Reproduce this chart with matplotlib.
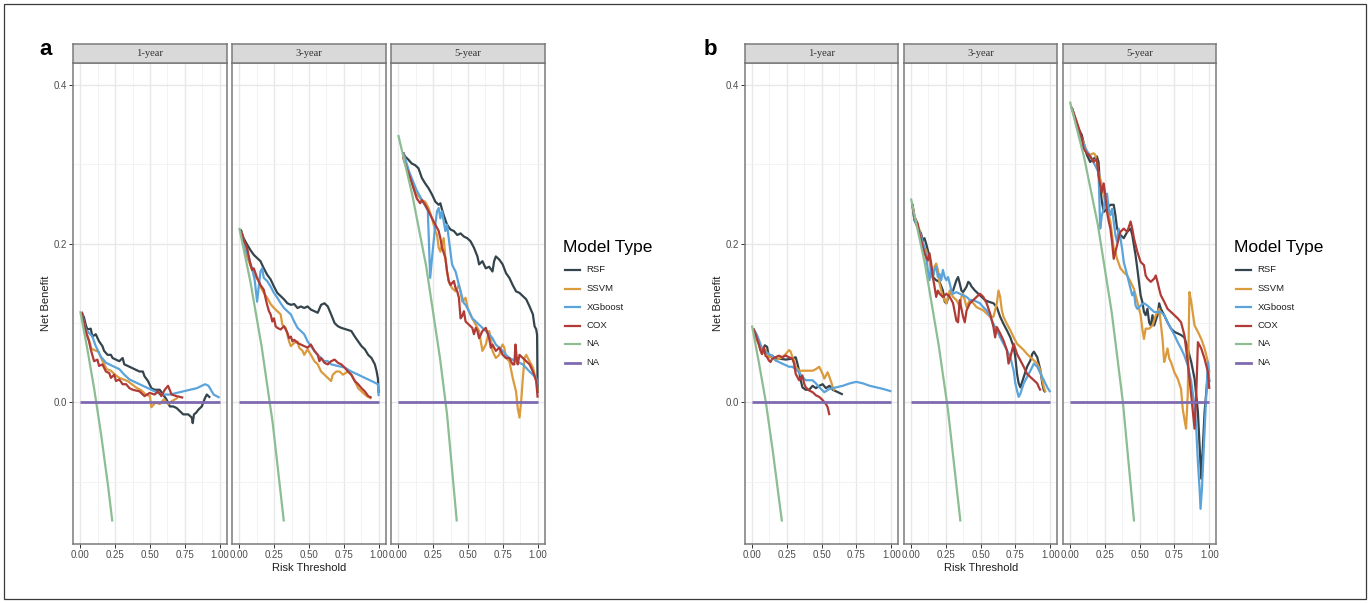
import matplotlib
matplotlib.use("Agg")
import matplotlib.pyplot as plt
from matplotlib.lines import Line2D
from matplotlib.patches import Rectangle

plt.rcParams["font.family"] = ["Liberation Sans", "DejaVu Sans"]

# ---------------------------------------------------------------- labels
HORIZONS = ["1-year", "3-year", "5-year"]
MODELS = ["RSF", "SSVM", "XGboost", "COX", "NA", "NA"]
COLORS = ["#34444C", "#DB9A3C", "#5BA4DB", "#B03A35", "#8CBD93", "#7E6BAF"]
WIDTHS = [1.6, 1.6, 1.6, 1.6, 1.6, 2.0]
X_TICKS = [0.0, 0.25, 0.5, 0.75, 1.0]
X_TICK_LABELS = ["0.00", "0.25", "0.50", "0.75", "1.00"]
Y_TICKS = [0.0, 0.2, 0.4]
Y_TICK_LABELS = ["0.0", "0.2", "0.4"]

# ------------------------------------------- decision curves (threshold, net benefit)
# panel a, 1-year
a1_rsf = [(0.01, 0.114), (0.027, 0.107), (0.039, 0.098), (0.051, 0.092), (0.075, 0.093), (0.087, 0.083),
          (0.111, 0.086), (0.135, 0.077), (0.159, 0.071), (0.171, 0.065), (0.196, 0.060), (0.220, 0.060),
          (0.232, 0.056), (0.256, 0.054), (0.280, 0.052), (0.304, 0.056), (0.316, 0.048), (0.341, 0.046),
          (0.365, 0.044), (0.389, 0.042), (0.425, 0.039), (0.449, 0.039), (0.461, 0.033), (0.486, 0.027),
          (0.510, 0.018), (0.534, 0.016), (0.570, 0.016), (0.594, 0.010), (0.618, 0.004), (0.643, -0.005),
          (0.667, -0.005), (0.691, -0.007), (0.715, -0.011), (0.739, -0.015), (0.775, -0.015), (0.800, -0.019),
          (0.807, -0.026), (0.816, -0.015), (0.831, -0.013), (0.848, -0.009), (0.872, -0.005), (0.896, 0.006),
          (0.908, 0.010), (0.932, 0.006)]
a1_ssvm = [(0.01, 0.114), (0.02, 0.100), (0.04, 0.088), (0.06, 0.080), (0.08, 0.068), (0.10, 0.066),
           (0.13, 0.064), (0.16, 0.052), (0.19, 0.042), (0.22, 0.040), (0.25, 0.035), (0.28, 0.031),
           (0.31, 0.029), (0.34, 0.027), (0.37, 0.023), (0.40, 0.019), (0.44, 0.015), (0.47, 0.010),
           (0.50, 0.008), (0.51, -0.006), (0.54, 0.000), (0.57, -0.002), (0.60, 0.004), (0.63, -0.002),
           (0.66, 0.002), (0.70, 0.006)]
a1_xgb = [(0.01, 0.114), (0.039, 0.092), (0.087, 0.083), (0.111, 0.071), (0.147, 0.058), (0.184, 0.050),
          (0.232, 0.046), (0.280, 0.042), (0.316, 0.035), (0.353, 0.029), (0.425, 0.023), (0.486, 0.018),
          (0.534, 0.014), (0.582, 0.010), (0.643, 0.010), (0.691, 0.012), (0.739, 0.014), (0.787, 0.016),
          (0.836, 0.018), (0.896, 0.023), (0.920, 0.021), (0.957, 0.010), (1.0, 0.006)]
a1_cox = [(0.01, 0.114), (0.039, 0.090), (0.063, 0.077), (0.075, 0.067), (0.099, 0.052), (0.123, 0.054),
          (0.135, 0.046), (0.159, 0.048), (0.184, 0.039), (0.208, 0.037), (0.220, 0.031), (0.244, 0.035),
          (0.256, 0.027), (0.280, 0.029), (0.304, 0.023), (0.329, 0.023), (0.353, 0.018), (0.377, 0.016),
          (0.425, 0.014), (0.461, 0.008), (0.498, 0.012), (0.534, 0.010), (0.558, 0.014), (0.582, 0.008),
          (0.606, 0.016), (0.630, 0.021), (0.655, 0.010), (0.691, 0.008), (0.739, 0.006)]
a1_all = [(0.0, 0.115), (0.05, 0.068), (0.10, 0.017), (0.15, -0.041), (0.20, -0.106), (0.23, -0.150)]

# panel a, 3-year
a2_rsf = [(0.01, 0.218), (0.031, 0.207), (0.056, 0.199), (0.080, 0.192), (0.104, 0.186), (0.128, 0.182),
          (0.152, 0.178), (0.176, 0.169), (0.200, 0.161), (0.225, 0.155), (0.249, 0.146), (0.273, 0.138),
          (0.297, 0.134), (0.321, 0.130), (0.345, 0.125), (0.370, 0.123), (0.394, 0.124), (0.418, 0.119),
          (0.442, 0.121), (0.466, 0.119), (0.490, 0.121), (0.514, 0.117), (0.539, 0.115), (0.563, 0.113),
          (0.587, 0.123), (0.611, 0.125), (0.635, 0.121), (0.659, 0.111), (0.684, 0.100), (0.708, 0.096),
          (0.732, 0.094), (0.768, 0.092), (0.804, 0.090), (0.829, 0.083), (0.853, 0.077), (0.877, 0.071),
          (0.901, 0.067), (0.925, 0.060), (0.949, 0.056), (0.973, 0.048), (0.986, 0.039), (0.995, 0.030),
          (1.0, 0.012)]
a2_ssvm = [(0.01, 0.218), (0.043, 0.190), (0.068, 0.178), (0.092, 0.167), (0.116, 0.159), (0.140, 0.153),
           (0.152, 0.146), (0.176, 0.138), (0.200, 0.132), (0.225, 0.124), (0.249, 0.119), (0.273, 0.115),
           (0.297, 0.111), (0.309, 0.098), (0.333, 0.094), (0.345, 0.086), (0.357, 0.077), (0.370, 0.071),
           (0.394, 0.075), (0.418, 0.077), (0.430, 0.069), (0.454, 0.065), (0.466, 0.060), (0.490, 0.067),
           (0.514, 0.060), (0.539, 0.052), (0.563, 0.048), (0.587, 0.039), (0.611, 0.035), (0.635, 0.031),
           (0.659, 0.027), (0.671, 0.035), (0.696, 0.039), (0.720, 0.039), (0.744, 0.035), (0.780, 0.039),
           (0.804, 0.035), (0.829, 0.027), (0.853, 0.018), (0.877, 0.014), (0.901, 0.010), (0.925, 0.007),
           (0.949, 0.005)]
a2_xgb = [(0.01, 0.218), (0.05, 0.192), (0.09, 0.170), (0.11, 0.155), (0.128, 0.127), (0.152, 0.165),
          (0.164, 0.169), (0.176, 0.157), (0.200, 0.153), (0.225, 0.146), (0.249, 0.138), (0.273, 0.132),
          (0.297, 0.125), (0.321, 0.119), (0.345, 0.115), (0.370, 0.111), (0.394, 0.102), (0.418, 0.094),
          (0.442, 0.090), (0.466, 0.086), (0.490, 0.077), (0.514, 0.071), (0.539, 0.065), (0.563, 0.060),
          (0.587, 0.056), (0.611, 0.052), (0.635, 0.052), (0.659, 0.048), (0.708, 0.046), (0.756, 0.044),
          (0.804, 0.039), (0.853, 0.035), (0.901, 0.031), (0.949, 0.027), (0.995, 0.023), (1.0, 0.008)]
a2_cox = [(0.01, 0.218), (0.031, 0.205), (0.056, 0.195), (0.080, 0.174), (0.092, 0.167), (0.104, 0.169),
          (0.128, 0.157), (0.152, 0.148), (0.176, 0.142), (0.188, 0.132), (0.200, 0.123), (0.213, 0.115),
          (0.225, 0.111), (0.237, 0.102), (0.249, 0.106), (0.261, 0.096), (0.273, 0.094), (0.297, 0.092),
          (0.321, 0.096), (0.345, 0.088), (0.357, 0.081), (0.370, 0.083), (0.382, 0.077), (0.394, 0.079),
          (0.418, 0.075), (0.442, 0.073), (0.466, 0.071), (0.490, 0.069), (0.514, 0.073), (0.539, 0.065),
          (0.563, 0.060), (0.575, 0.052), (0.587, 0.056), (0.611, 0.050), (0.635, 0.048), (0.659, 0.052),
          (0.684, 0.054), (0.708, 0.050), (0.732, 0.048), (0.756, 0.044), (0.780, 0.039), (0.804, 0.035),
          (0.829, 0.027), (0.853, 0.023), (0.877, 0.018), (0.901, 0.014), (0.925, 0.008), (0.949, 0.006)]
a2_all = [(0.0, 0.220), (0.08, 0.152), (0.16, 0.071), (0.24, -0.026), (0.32, -0.150)]

# panel a, 5-year
a3_rsf = [(0.035, 0.315), (0.048, 0.310), (0.072, 0.306), (0.097, 0.301), (0.121, 0.299), (0.145, 0.295),
          (0.169, 0.283), (0.193, 0.276), (0.217, 0.270), (0.242, 0.262), (0.266, 0.253), (0.290, 0.249),
          (0.302, 0.251), (0.314, 0.243), (0.326, 0.236), (0.350, 0.224), (0.374, 0.218), (0.399, 0.216),
          (0.423, 0.211), (0.447, 0.213), (0.471, 0.209), (0.495, 0.207), (0.519, 0.203), (0.543, 0.195),
          (0.568, 0.184), (0.580, 0.174), (0.604, 0.178), (0.628, 0.169), (0.652, 0.171), (0.676, 0.165),
          (0.688, 0.178), (0.700, 0.184), (0.725, 0.180), (0.749, 0.174), (0.773, 0.163), (0.797, 0.157),
          (0.821, 0.148), (0.845, 0.140), (0.870, 0.138), (0.894, 0.134), (0.918, 0.130), (0.942, 0.121),
          (0.966, 0.111), (0.978, 0.096), (0.990, 0.092), (0.996, 0.085), (1.0, 0.012)]
a3_ssvm = [(0.035, 0.315), (0.048, 0.304), (0.072, 0.291), (0.097, 0.278), (0.121, 0.266), (0.145, 0.260),
           (0.169, 0.255), (0.193, 0.253), (0.217, 0.245), (0.242, 0.232), (0.266, 0.216), (0.278, 0.211),
           (0.290, 0.195), (0.302, 0.190), (0.314, 0.199), (0.326, 0.207), (0.338, 0.182), (0.350, 0.165),
           (0.362, 0.153), (0.386, 0.144), (0.411, 0.140), (0.435, 0.148), (0.447, 0.140), (0.459, 0.127),
           (0.483, 0.132), (0.495, 0.121), (0.507, 0.115), (0.531, 0.106), (0.556, 0.098), (0.580, 0.090),
           (0.592, 0.077), (0.604, 0.065), (0.628, 0.073), (0.652, 0.090), (0.664, 0.081), (0.676, 0.065),
           (0.700, 0.056), (0.725, 0.060), (0.737, 0.069), (0.749, 0.073), (0.761, 0.069), (0.773, 0.056),
           (0.797, 0.052), (0.821, 0.031), (0.845, 0.014), (0.857, -0.007), (0.870, -0.019), (0.882, 0.002),
           (0.894, 0.031), (0.906, 0.056), (0.918, 0.060), (0.942, 0.052), (0.966, 0.044), (0.990, 0.027),
           (1.0, 0.014)]
a3_xgb = [(0.035, 0.315), (0.08, 0.290), (0.13, 0.268), (0.18, 0.252), (0.212, 0.242), (0.229, 0.157),
          (0.242, 0.182), (0.254, 0.203), (0.266, 0.224), (0.278, 0.241), (0.290, 0.245), (0.302, 0.232),
          (0.314, 0.241), (0.326, 0.228), (0.338, 0.216), (0.350, 0.224), (0.362, 0.207), (0.374, 0.190),
          (0.386, 0.174), (0.399, 0.169), (0.411, 0.165), (0.423, 0.157), (0.435, 0.148), (0.447, 0.140),
          (0.459, 0.132), (0.471, 0.125), (0.483, 0.123), (0.507, 0.115), (0.531, 0.106), (0.556, 0.102),
          (0.580, 0.098), (0.604, 0.094), (0.628, 0.090), (0.652, 0.086), (0.676, 0.081), (0.700, 0.073),
          (0.725, 0.069), (0.749, 0.065), (0.773, 0.060), (0.797, 0.056), (0.845, 0.052), (0.894, 0.048),
          (0.942, 0.039), (0.990, 0.031), (1.0, 0.023)]
a3_cox = [(0.035, 0.315), (0.036, 0.308), (0.060, 0.295), (0.085, 0.283), (0.109, 0.270), (0.133, 0.257),
          (0.157, 0.251), (0.169, 0.255), (0.193, 0.249), (0.217, 0.241), (0.242, 0.232), (0.266, 0.224),
          (0.290, 0.216), (0.302, 0.207), (0.314, 0.195), (0.338, 0.182), (0.350, 0.165), (0.362, 0.153),
          (0.374, 0.148), (0.399, 0.153), (0.411, 0.144), (0.423, 0.140), (0.435, 0.132), (0.447, 0.106),
          (0.459, 0.109), (0.471, 0.115), (0.483, 0.102), (0.507, 0.098), (0.531, 0.094), (0.543, 0.086),
          (0.556, 0.094), (0.568, 0.090), (0.580, 0.081), (0.604, 0.090), (0.628, 0.094), (0.652, 0.081),
          (0.664, 0.069), (0.676, 0.073), (0.700, 0.065), (0.725, 0.069), (0.749, 0.060), (0.773, 0.056),
          (0.797, 0.056), (0.821, 0.048), (0.833, 0.048), (0.841, 0.073), (0.850, 0.056), (0.857, 0.048),
          (0.870, 0.060), (0.894, 0.056), (0.918, 0.052), (0.942, 0.048), (0.966, 0.039), (0.990, 0.027),
          (1.0, 0.006)]
a3_all = [(0.0, 0.337), (0.1, 0.262), (0.2, 0.172), (0.3, 0.055), (0.35, -0.015), (0.42, -0.150)]

# panel b, 1-year
b1_rsf = [(0.01, 0.093), (0.024, 0.087), (0.048, 0.078), (0.060, 0.070), (0.077, 0.064), (0.092, 0.072),
          (0.109, 0.070), (0.121, 0.057), (0.145, 0.059), (0.169, 0.055), (0.205, 0.055), (0.242, 0.054),
          (0.278, 0.055), (0.314, 0.057), (0.326, 0.049), (0.338, 0.040), (0.350, 0.028), (0.362, 0.019),
          (0.386, 0.016), (0.411, 0.016), (0.435, 0.021), (0.459, 0.018), (0.483, 0.021), (0.507, 0.023),
          (0.531, 0.018), (0.556, 0.021), (0.580, 0.016), (0.604, 0.014), (0.628, 0.012), (0.652, 0.010)]
b1_ssvm = [(0.01, 0.093), (0.024, 0.082), (0.048, 0.074), (0.072, 0.061), (0.097, 0.066), (0.121, 0.057),
           (0.145, 0.057), (0.169, 0.053), (0.193, 0.055), (0.217, 0.057), (0.242, 0.061), (0.266, 0.066),
           (0.278, 0.064), (0.290, 0.057), (0.302, 0.053), (0.314, 0.045), (0.338, 0.040), (0.362, 0.040),
           (0.386, 0.040), (0.411, 0.040), (0.435, 0.040), (0.459, 0.042), (0.483, 0.045), (0.507, 0.036),
           (0.519, 0.030), (0.531, 0.034), (0.543, 0.038), (0.556, 0.032), (0.568, 0.026), (0.580, 0.019),
           (0.592, 0.015)]
b1_xgb = [(0.01, 0.093), (0.036, 0.085), (0.060, 0.074), (0.072, 0.068), (0.097, 0.064), (0.121, 0.061),
          (0.145, 0.059), (0.169, 0.053), (0.193, 0.051), (0.217, 0.049), (0.242, 0.047), (0.266, 0.045),
          (0.290, 0.045), (0.314, 0.042), (0.338, 0.038), (0.362, 0.032), (0.386, 0.028), (0.411, 0.028),
          (0.435, 0.028), (0.459, 0.024), (0.483, 0.019), (0.507, 0.015), (0.519, 0.013), (0.556, 0.017),
          (0.604, 0.019), (0.652, 0.021), (0.700, 0.024), (0.749, 0.026), (0.797, 0.024), (0.845, 0.021),
          (0.894, 0.019), (0.942, 0.017), (1.0, 0.014)]
b1_cox = [(0.01, 0.093), (0.024, 0.087), (0.048, 0.074), (0.060, 0.066), (0.072, 0.061), (0.085, 0.070),
          (0.097, 0.059), (0.109, 0.057), (0.121, 0.053), (0.133, 0.051), (0.145, 0.055), (0.169, 0.057),
          (0.193, 0.059), (0.217, 0.057), (0.242, 0.059), (0.266, 0.057), (0.290, 0.055), (0.302, 0.049),
          (0.314, 0.036), (0.326, 0.032), (0.338, 0.028), (0.350, 0.030), (0.362, 0.034), (0.374, 0.024),
          (0.386, 0.019), (0.411, 0.015), (0.435, 0.013), (0.459, 0.009), (0.483, 0.007), (0.507, 0.003),
          (0.531, -0.002), (0.543, -0.006), (0.556, -0.016)]
b1_all = [(0.0, 0.097), (0.05, 0.050), (0.10, 0.000), (0.15, -0.062), (0.215, -0.150)]

# panel b, 3-year
b2_rsf = [(0.01, 0.250), (0.024, 0.230), (0.048, 0.221), (0.072, 0.213), (0.085, 0.204), (0.097, 0.207),
          (0.109, 0.200), (0.121, 0.192), (0.133, 0.183), (0.145, 0.171), (0.157, 0.158), (0.181, 0.154),
          (0.205, 0.152), (0.229, 0.141), (0.242, 0.127), (0.254, 0.125), (0.278, 0.137), (0.302, 0.141),
          (0.326, 0.154), (0.338, 0.158), (0.350, 0.150), (0.362, 0.141), (0.374, 0.139), (0.399, 0.146),
          (0.411, 0.152), (0.423, 0.150), (0.435, 0.146), (0.459, 0.141), (0.483, 0.137), (0.507, 0.133),
          (0.531, 0.129), (0.556, 0.127), (0.592, 0.125), (0.616, 0.120), (0.640, 0.108), (0.664, 0.099),
          (0.688, 0.091), (0.713, 0.082), (0.737, 0.070), (0.749, 0.057), (0.761, 0.036), (0.773, 0.024),
          (0.785, 0.019), (0.809, 0.032), (0.833, 0.045), (0.857, 0.053), (0.870, 0.061), (0.882, 0.064),
          (0.906, 0.057), (0.930, 0.040), (0.942, 0.024), (0.954, 0.015), (0.966, 0.013)]
b2_ssvm = [(0.01, 0.250), (0.024, 0.234), (0.048, 0.225), (0.060, 0.217), (0.072, 0.209), (0.085, 0.196),
           (0.109, 0.192), (0.121, 0.183), (0.133, 0.179), (0.145, 0.162), (0.157, 0.156), (0.169, 0.171),
           (0.181, 0.175), (0.193, 0.167), (0.205, 0.150), (0.217, 0.141), (0.229, 0.133), (0.254, 0.125),
           (0.278, 0.141), (0.302, 0.133), (0.326, 0.129), (0.338, 0.125), (0.350, 0.120), (0.362, 0.133),
           (0.374, 0.137), (0.386, 0.129), (0.399, 0.120), (0.411, 0.125), (0.423, 0.129), (0.447, 0.125),
           (0.471, 0.120), (0.495, 0.118), (0.519, 0.116), (0.543, 0.112), (0.568, 0.108), (0.592, 0.108),
           (0.616, 0.125), (0.628, 0.141), (0.640, 0.133), (0.652, 0.116), (0.664, 0.108), (0.688, 0.099),
           (0.713, 0.091), (0.737, 0.082), (0.761, 0.074), (0.785, 0.070), (0.809, 0.066), (0.833, 0.061),
           (0.857, 0.057), (0.882, 0.053), (0.906, 0.049), (0.930, 0.040), (0.942, 0.028), (0.954, 0.019),
           (0.966, 0.013)]
b2_xgb = [(0.01, 0.250), (0.024, 0.232), (0.048, 0.221), (0.072, 0.209), (0.097, 0.196), (0.109, 0.183),
          (0.121, 0.167), (0.133, 0.154), (0.145, 0.171), (0.157, 0.158), (0.169, 0.167), (0.181, 0.171),
          (0.193, 0.158), (0.205, 0.162), (0.217, 0.154), (0.229, 0.167), (0.242, 0.158), (0.254, 0.154),
          (0.266, 0.158), (0.278, 0.150), (0.290, 0.141), (0.302, 0.137), (0.326, 0.139), (0.350, 0.137),
          (0.374, 0.135), (0.399, 0.133), (0.423, 0.129), (0.447, 0.129), (0.471, 0.127), (0.495, 0.125),
          (0.519, 0.120), (0.543, 0.116), (0.568, 0.108), (0.592, 0.099), (0.616, 0.091), (0.640, 0.082),
          (0.664, 0.074), (0.688, 0.066), (0.713, 0.057), (0.737, 0.040), (0.749, 0.024), (0.761, 0.015),
          (0.773, 0.007), (0.785, 0.011), (0.809, 0.024), (0.833, 0.032), (0.857, 0.040), (0.882, 0.049),
          (0.906, 0.045), (0.930, 0.036), (0.954, 0.028), (0.978, 0.019), (1.0, 0.013)]
b2_cox = [(0.01, 0.250), (0.024, 0.234), (0.048, 0.225), (0.060, 0.213), (0.085, 0.196), (0.097, 0.188),
          (0.109, 0.183), (0.121, 0.179), (0.133, 0.188), (0.145, 0.175), (0.157, 0.158), (0.169, 0.146),
          (0.181, 0.133), (0.193, 0.141), (0.205, 0.137), (0.229, 0.133), (0.254, 0.137), (0.278, 0.133),
          (0.302, 0.125), (0.326, 0.103), (0.338, 0.101), (0.350, 0.129), (0.374, 0.108), (0.386, 0.101),
          (0.399, 0.116), (0.423, 0.125), (0.447, 0.129), (0.471, 0.133), (0.495, 0.137), (0.519, 0.133),
          (0.543, 0.125), (0.568, 0.112), (0.592, 0.095), (0.604, 0.082), (0.616, 0.095), (0.640, 0.087),
          (0.664, 0.078), (0.688, 0.066), (0.700, 0.049), (0.713, 0.057), (0.737, 0.074), (0.761, 0.061),
          (0.785, 0.053), (0.809, 0.045), (0.833, 0.036), (0.857, 0.032), (0.882, 0.028), (0.906, 0.024),
          (0.918, 0.019), (0.930, 0.015)]
b2_all = [(0.0, 0.257), (0.1, 0.175), (0.2, 0.071), (0.266, -0.010), (0.355, -0.150)]

# panel b, 5-year
b3_rsf = [(0.012, 0.372), (0.036, 0.358), (0.060, 0.345), (0.085, 0.337), (0.097, 0.328), (0.109, 0.320),
          (0.121, 0.312), (0.145, 0.303), (0.169, 0.307), (0.193, 0.310), (0.205, 0.303), (0.217, 0.270),
          (0.229, 0.253), (0.242, 0.240), (0.266, 0.244), (0.290, 0.249), (0.314, 0.249), (0.326, 0.236),
          (0.338, 0.219), (0.362, 0.211), (0.386, 0.207), (0.411, 0.215), (0.435, 0.219), (0.447, 0.211),
          (0.459, 0.198), (0.471, 0.185), (0.483, 0.169), (0.495, 0.152), (0.507, 0.135), (0.519, 0.127),
          (0.531, 0.114), (0.543, 0.110), (0.556, 0.118), (0.568, 0.101), (0.580, 0.097), (0.592, 0.110),
          (0.604, 0.097), (0.628, 0.110), (0.640, 0.125), (0.652, 0.118), (0.676, 0.110), (0.700, 0.101),
          (0.725, 0.093), (0.749, 0.089), (0.773, 0.087), (0.797, 0.085), (0.821, 0.082), (0.845, 0.068),
          (0.870, 0.051), (0.894, 0.030), (0.906, 0.009), (0.918, -0.012), (0.930, -0.054), (0.942, -0.096),
          (0.966, -0.012), (0.990, 0.038), (1.0, 0.026)]
b3_ssvm = [(0.012, 0.372), (0.024, 0.366), (0.048, 0.350), (0.072, 0.337), (0.097, 0.328), (0.121, 0.316),
           (0.145, 0.312), (0.169, 0.314), (0.181, 0.312), (0.193, 0.303), (0.205, 0.286), (0.217, 0.282),
           (0.229, 0.274), (0.242, 0.261), (0.254, 0.253), (0.266, 0.244), (0.278, 0.236), (0.290, 0.228),
           (0.302, 0.211), (0.314, 0.194), (0.326, 0.190), (0.338, 0.181), (0.362, 0.169), (0.386, 0.164),
           (0.411, 0.160), (0.435, 0.152), (0.459, 0.143), (0.483, 0.127), (0.507, 0.110), (0.519, 0.093),
           (0.531, 0.080), (0.543, 0.093), (0.568, 0.093), (0.592, 0.097), (0.616, 0.110), (0.640, 0.118),
           (0.664, 0.080), (0.676, 0.051), (0.688, 0.059), (0.700, 0.068), (0.713, 0.055), (0.725, 0.051),
           (0.749, 0.038), (0.773, 0.030), (0.797, 0.017), (0.809, -0.008), (0.821, -0.021), (0.833, -0.033),
           (0.845, 0.009), (0.857, 0.139), (0.870, 0.127), (0.894, 0.097), (0.918, 0.089), (0.942, 0.080),
           (0.966, 0.068), (0.990, 0.051), (1.0, 0.038)]
b3_xgb = [(0.012, 0.372), (0.06, 0.343), (0.11, 0.320), (0.16, 0.306), (0.205, 0.290), (0.217, 0.219),
          (0.229, 0.236), (0.242, 0.244), (0.254, 0.261), (0.266, 0.263), (0.278, 0.244), (0.290, 0.236),
          (0.302, 0.244), (0.314, 0.228), (0.326, 0.211), (0.338, 0.202), (0.350, 0.219), (0.362, 0.207),
          (0.374, 0.194), (0.386, 0.177), (0.411, 0.160), (0.435, 0.143), (0.447, 0.135), (0.459, 0.139),
          (0.471, 0.122), (0.483, 0.118), (0.507, 0.122), (0.531, 0.125), (0.556, 0.122), (0.580, 0.118),
          (0.604, 0.114), (0.628, 0.114), (0.652, 0.114), (0.676, 0.110), (0.700, 0.101), (0.725, 0.093),
          (0.749, 0.085), (0.773, 0.076), (0.797, 0.068), (0.821, 0.059), (0.845, 0.047), (0.870, 0.026),
          (0.894, -0.004), (0.906, -0.033), (0.918, -0.075), (0.930, -0.109), (0.937, -0.134), (0.947, -0.109),
          (0.961, -0.054), (0.978, 0.009), (0.990, 0.051), (1.0, 0.026)]
b3_cox = [(0.012, 0.372), (0.024, 0.366), (0.048, 0.354), (0.072, 0.341), (0.085, 0.333), (0.097, 0.320),
          (0.121, 0.314), (0.145, 0.310), (0.169, 0.303), (0.193, 0.307), (0.205, 0.286), (0.217, 0.274),
          (0.229, 0.265), (0.242, 0.276), (0.254, 0.261), (0.266, 0.240), (0.278, 0.228), (0.290, 0.219),
          (0.302, 0.202), (0.314, 0.181), (0.326, 0.190), (0.338, 0.198), (0.350, 0.207), (0.362, 0.215),
          (0.386, 0.219), (0.411, 0.215), (0.435, 0.228), (0.447, 0.219), (0.459, 0.207), (0.483, 0.190),
          (0.507, 0.177), (0.531, 0.173), (0.543, 0.160), (0.556, 0.156), (0.580, 0.152), (0.604, 0.156),
          (0.616, 0.160), (0.628, 0.152), (0.640, 0.143), (0.652, 0.135), (0.676, 0.127), (0.700, 0.118),
          (0.725, 0.114), (0.749, 0.110), (0.773, 0.106), (0.797, 0.101), (0.821, 0.085), (0.845, 0.051),
          (0.870, 0.009), (0.894, -0.033), (0.906, 0.009), (0.918, 0.076), (0.942, 0.068), (0.966, 0.055),
          (0.990, 0.038), (1.0, 0.017)]
b3_all = [(0.0, 0.379), (0.1, 0.310), (0.2, 0.224), (0.3, 0.113), (0.38, 0.0), (0.46, -0.150)]

# treat-none reference
none_nb = [(0.0, 0.0), (1.0, 0.0)]

PANEL_A = [
    [a1_rsf, a1_ssvm, a1_xgb, a1_cox, a1_all, none_nb],
    [a2_rsf, a2_ssvm, a2_xgb, a2_cox, a2_all, none_nb],
    [a3_rsf, a3_ssvm, a3_xgb, a3_cox, a3_all, none_nb],
]
PANEL_B = [
    [b1_rsf, b1_ssvm, b1_xgb, b1_cox, b1_all, none_nb],
    [b2_rsf, b2_ssvm, b2_xgb, b2_cox, b2_all, none_nb],
    [b3_rsf, b3_ssvm, b3_xgb, b3_cox, b3_all, none_nb],
]

# ---------------------------------------------------------------- layout (pixels)
W, H = 1370, 603
FACET_W, GAP = 153.3, 5.7
STRIP_TOP, PANEL_TOP, PANEL_BOTTOM = 44.3, 63.3, 544.0
Y_LIM = (-0.1783, 0.4273)
BORDER = "#7A7A7A"
GRID_MAJOR = "#E8E8E8"
GRID_MINOR = "#F1F1F1"
TICK_TXT = "#4D4D4D"
TITLE_TXT = "#1F1F1F"

fig = plt.figure(figsize=(W / 100, H / 100), dpi=100)
fig.patch.set_facecolor("white")


def px_axes(x0, y0, x1, y1):
    return fig.add_axes([x0 / W, 1 - y1 / H, (x1 - x0) / W, (y1 - y0) / H])


def draw_panel(left, facets, letter, letter_x, ylab_x, legend_x):
    for j, (horizon, curves) in enumerate(zip(HORIZONS, facets)):
        x0 = left + j * (FACET_W + GAP)
        ax = px_axes(x0, PANEL_TOP, x0 + FACET_W, PANEL_BOTTOM)
        ax.set_xlim(-0.05, 1.05)
        ax.set_ylim(*Y_LIM)
        ax.set_xticks(X_TICKS)
        ax.set_xticklabels(X_TICK_LABELS)
        ax.set_xticks([0.125, 0.375, 0.625, 0.875], minor=True)
        ax.set_yticks(Y_TICKS)
        ax.set_yticks([-0.1, 0.1, 0.3], minor=True)
        ax.grid(which="major", color=GRID_MAJOR, lw=1.0, zorder=0)
        ax.grid(which="minor", color=GRID_MINOR, lw=0.6, zorder=0)
        ax.set_axisbelow(True)
        for sp in ax.spines.values():
            sp.set_color(BORDER)
            sp.set_linewidth(1.1)
        ax.tick_params(which="minor", length=0)
        ax.tick_params(axis="x", which="major", length=3.0, width=0.7, color="#333333",
                       labelsize=7, labelcolor=TICK_TXT, pad=1.5)
        if j == 0:
            ax.set_yticklabels(Y_TICK_LABELS)
            ax.tick_params(axis="y", which="major", length=3.0, width=0.7, color="#333333",
                           labelsize=7, labelcolor=TICK_TXT, pad=1.5)
        else:
            ax.set_yticklabels([])
            ax.tick_params(axis="y", which="major", length=0)

        for pts, color, lw in zip(curves, COLORS, WIDTHS):
            t = [p[0] for p in pts]
            nb = [p[1] for p in pts]
            ax.plot(t, nb, color=color, lw=lw, solid_joinstyle="round",
                    solid_capstyle="butt", zorder=3)

        strip = px_axes(x0, STRIP_TOP, x0 + FACET_W, PANEL_TOP)
        strip.set_facecolor("#D9D9D9")
        strip.set_xticks([])
        strip.set_yticks([])
        for sp in strip.spines.values():
            sp.set_color(BORDER)
            sp.set_linewidth(1.1)
        strip.text(0.5, 0.5, horizon, ha="center", va="center", fontsize=7.6,
                   family=["Liberation Serif", "DejaVu Serif"], color="#333333",
                   transform=strip.transAxes)

    mid = left + FACET_W + GAP + FACET_W / 2
    fig.text(mid / W, 1 - 568 / H, "Risk Threshold", ha="center", va="center",
             fontsize=8, color=TITLE_TXT)
    fig.text(ylab_x / W, 1 - (PANEL_TOP + PANEL_BOTTOM) / 2 / H, "Net Benefit",
             ha="center", va="center", rotation=90, fontsize=8, color=TITLE_TXT)
    fig.text(letter_x / W, 1 - 55 / H, letter, ha="center", va="baseline",
             fontsize=16, fontweight="bold", color="black")

    # legend
    fig.text(legend_x / W, 1 - 251.7 / H, "Model Type", ha="left", va="baseline",
             fontsize=12.5, color="black")
    for i, (name, color, lw) in enumerate(zip(MODELS, COLORS, WIDTHS)):
        y = 270 + i * 18.5
        fig.add_artist(Line2D([(legend_x + 2.5) / W, (legend_x + 17) / W],
                              [1 - y / H, 1 - y / H], color=color, lw=lw,
                              transform=fig.transFigure))
        fig.text((legend_x + 24) / W, 1 - y / H, name, ha="left", va="center",
                 fontsize=6.8, color="#1F1F1F")


draw_panel(73.3, PANEL_A, "a", 46, 46, 562.7)
draw_panel(745.0, PANEL_B, "b", 710, 718, 1233.5)

# outer frame of the figure
fig.add_artist(Rectangle((4 / W, 4 / H), (W - 8) / W, (H - 8) / H, transform=fig.transFigure,
                         fill=False, edgecolor="#3A3A3A", lw=0.9))

fig.savefig("out.png", dpi=100)
